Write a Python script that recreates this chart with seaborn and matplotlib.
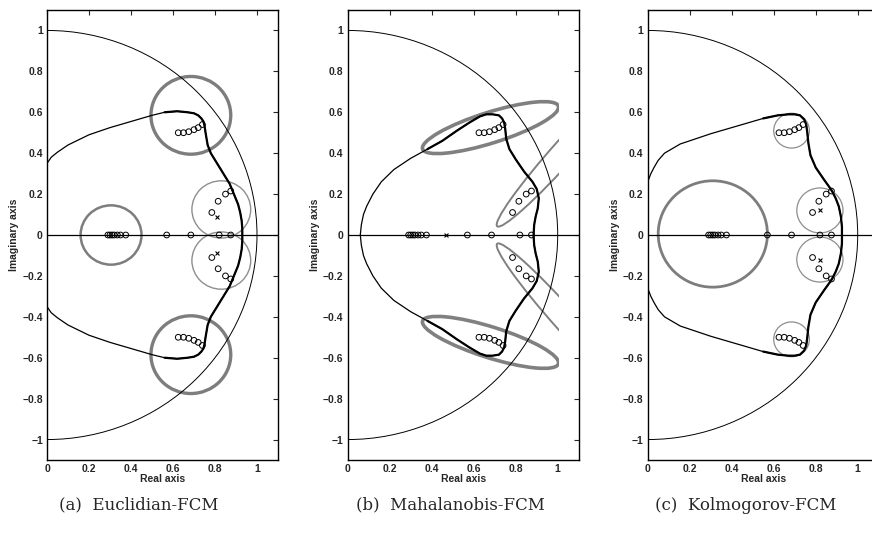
import numpy as np
import pandas as pd
import matplotlib
matplotlib.use("Agg")
import matplotlib.pyplot as plt
from matplotlib.patches import Circle, Ellipse, Arc, Rectangle
import seaborn as sns

# zeros shared by the three plots (upper half; conjugates are mirrored)
real_zeros = [0.29, 0.30, 0.31, 0.32, 0.335, 0.35, 0.375, 0.57, 0.685, 0.82, 0.875]
cplx_zeros_re = [0.625, 0.65, 0.675, 0.70, 0.72, 0.74, 0.785, 0.815, 0.85, 0.875]
cplx_zeros_im = [0.50, 0.50, 0.505, 0.515, 0.525, 0.54, 0.11, 0.165, 0.20, 0.215]

captions = ["(a)  Euclidian-FCM", "(b)  Mahalanobis-FCM", "(c)  Kolmogorov-FCM"]

# poles (upper half)
poles_a_re = [0.81]
poles_a_im = [0.09]
poles_b_re = [0.47]
poles_b_im = [0.0]
poles_c_re = [0.82]
poles_c_im = [0.12]

# boundary curves, upper half (from the left end down to the real axis)
curve_a_x = [0.00, 0.02, 0.05, 0.10, 0.20, 0.30, 0.40, 0.50, 0.56, 0.62, 0.67, 0.70, 0.72,
             0.735, 0.745, 0.75, 0.755, 0.76, 0.765, 0.78, 0.81, 0.84, 0.87, 0.89, 0.91,
             0.92, 0.927, 0.93, 0.93]
curve_a_y = [0.35, 0.38, 0.405, 0.44, 0.49, 0.525, 0.555, 0.585, 0.60, 0.605, 0.60, 0.595,
             0.585, 0.57, 0.555, 0.535, 0.50, 0.47, 0.44, 0.40, 0.35, 0.30, 0.25, 0.20, 0.15,
             0.11, 0.07, 0.03, 0.0]
curve_b_x = [0.06, 0.065, 0.075, 0.09, 0.12, 0.16, 0.22, 0.30, 0.38, 0.45, 0.52, 0.58, 0.63,
             0.66, 0.69, 0.72, 0.735, 0.745, 0.75, 0.755, 0.77, 0.80, 0.84, 0.88, 0.90, 0.91,
             0.905, 0.895, 0.888, 0.885]
curve_b_y = [0.0, 0.05, 0.10, 0.14, 0.20, 0.26, 0.32, 0.375, 0.42, 0.46, 0.51, 0.55, 0.58,
             0.59, 0.59, 0.585, 0.57, 0.55, 0.52, 0.47, 0.42, 0.37, 0.31, 0.26, 0.225, 0.18,
             0.13, 0.09, 0.05, 0.0]
curve_c_x = [0.00, 0.015, 0.03, 0.05, 0.08, 0.155, 0.30, 0.45, 0.55, 0.62, 0.67, 0.70, 0.725,
             0.745, 0.755, 0.76, 0.765, 0.775, 0.80, 0.84, 0.875, 0.895, 0.91, 0.92, 0.925,
             0.925]
curve_c_y = [0.26, 0.30, 0.33, 0.365, 0.40, 0.445, 0.495, 0.54, 0.57, 0.585, 0.59, 0.59,
             0.585, 0.565, 0.54, 0.50, 0.45, 0.39, 0.33, 0.27, 0.22, 0.18, 0.14, 0.09, 0.04,
             0.0]
thin_until = [0.55, 0.38, 0.55]   # left part of the curve drawn thin

# cluster circles: (cx, cy, r, lw, grey)
circles_a = [(0.685, 0.585, 0.19, 2.4, "#7d7d7d"), (0.685, -0.585, 0.19, 2.4, "#7d7d7d"),
             (0.83, 0.125, 0.14, 1.0, "#8e8e8e"), (0.83, -0.125, 0.14, 1.0, "#8e8e8e"),
             (0.305, 0.0, 0.145, 1.8, "#7d7d7d")]
circles_c = [(0.31, 0.005, 0.26, 2.0, "#7d7d7d"),
             (0.685, 0.51, 0.085, 0.9, "#8e8e8e"), (0.685, -0.51, 0.085, 0.9, "#8e8e8e"),
             (0.82, 0.12, 0.11, 0.9, "#8e8e8e"), (0.82, -0.12, 0.11, 0.9, "#8e8e8e")]
# Mahalanobis ellipses: (cx, cy, width, height, angle, lw)
ellipses_b = [(0.68, 0.525, 0.68, 0.15, 18, 2.6), (0.68, -0.525, 0.68, 0.15, -18, 2.6),
              (1.04, 0.42, 1.0, 0.11, 49, 1.4), (1.04, -0.42, 1.0, 0.11, -49, 1.4)]

sns.set_style("white")
plt.rcParams["font.family"] = ["Liberation Sans", "DejaVu Sans"]

fig = plt.figure(figsize=(8.72, 5.35), dpi=100)
lefts = [47, 347.7, 647.7]
axes = [fig.add_axes([l / 872, 75 / 535, 231 / 872, 450 / 535]) for l in lefts]
cap_x = [139, 450, 746]

zr = real_zeros + cplx_zeros_re + cplx_zeros_re
zi = [0.0] * len(real_zeros) + cplx_zeros_im + [-v for v in cplx_zeros_im]
zeros = pd.DataFrame({"re": zr, "im": zi})

curves = [(curve_a_x, curve_a_y), (curve_b_x, curve_b_y), (curve_c_x, curve_c_y)]
poles = [(poles_a_re, poles_a_im), (poles_b_re, poles_b_im), (poles_c_re, poles_c_im)]

for i, ax in enumerate(axes):
    # cluster shapes
    if i == 0 or i == 2:
        for cx, cy, r, lw, col in (circles_a if i == 0 else circles_c):
            ax.add_patch(Circle((cx, cy), r, fill=False, ec=col, lw=lw, zorder=2))
    else:
        clip = Rectangle((0, -1.1), 1.005, 2.2, transform=ax.transData)
        for cx, cy, w, h, ang, lw in ellipses_b:
            e = Ellipse((cx, cy), w, h, angle=ang, fill=False, ec="#808080", lw=lw, zorder=2)
            ax.add_patch(e)
            e.set_clip_path(clip)

    # unit semicircle and real axis
    ax.add_patch(Arc((0, 0), 2, 2, theta1=-90, theta2=90, color="black", lw=0.7, zorder=3))
    ax.axhline(0, color="black", lw=0.9, zorder=3)

    # boundary curve: upper half then mirrored lower half
    cx, cy = curves[i]
    full_x = list(cx) + list(cx[::-1])
    full_y = list(cy) + [-v for v in cy[::-1]]
    sns.lineplot(x=full_x, y=full_y, sort=False, estimator=None, color="black", lw=0.9,
                 ax=ax, zorder=4)
    n = len(cx)
    k0 = next(k for k, v in enumerate(cx) if v >= thin_until[i])
    tx = full_x[k0:2 * n - k0]
    ty = full_y[k0:2 * n - k0]
    sns.lineplot(x=tx, y=ty, sort=False, estimator=None, color="black", lw=1.6, ax=ax, zorder=4)

    # zeros and poles
    sns.scatterplot(data=zeros, x="re", y="im", marker="o", s=17, facecolors="none",
                    edgecolor="black", linewidth=0.7, ax=ax, zorder=5)
    pr, pi = poles[i]
    pr2 = list(pr) + [v for v, w in zip(pr, pi) if w != 0]
    pi2 = list(pi) + [-w for w in pi if w != 0]
    sns.scatterplot(x=pr2, y=pi2, marker="x", s=8, color="black", linewidth=0.8, ax=ax, zorder=5)

    ax.set_xlim(0, 1.1)
    ax.set_ylim(-1.1, 1.1)
    ax.set_xticks([0, 0.2, 0.4, 0.6, 0.8, 1])
    ax.set_xticklabels(["0", "0.2", "0.4", "0.6", "0.8", "1"])
    yt = [-1, -0.8, -0.6, -0.4, -0.2, 0, 0.2, 0.4, 0.6, 0.8, 1]
    ax.set_yticks(yt)
    ax.set_yticklabels(["\u22121", "\u22120.8", "\u22120.6", "\u22120.4", "\u22120.2", "0",
                        "0.2", "0.4", "0.6", "0.8", "1"])
    ax.tick_params(direction="in", top=True, right=True, length=3.5, width=0.8,
                   labelsize=7.5, pad=3)
    for lab in ax.get_xticklabels() + ax.get_yticklabels():
        lab.set_fontweight("bold")
    for s in ax.spines.values():
        s.set_color("black")
        s.set_linewidth(1.0)
    ax.set_xlabel("Real axis", fontsize=7.5, fontweight="bold", labelpad=0)
    ax.set_ylabel("Imaginary axis", fontsize=7.5, fontweight="bold", labelpad=2)

    fig.text(cap_x[i] / 872, 30 / 535, captions[i], ha="center", va="center",
             fontsize=12, family="DejaVu Serif")

fig.savefig("out.png", dpi=100)
